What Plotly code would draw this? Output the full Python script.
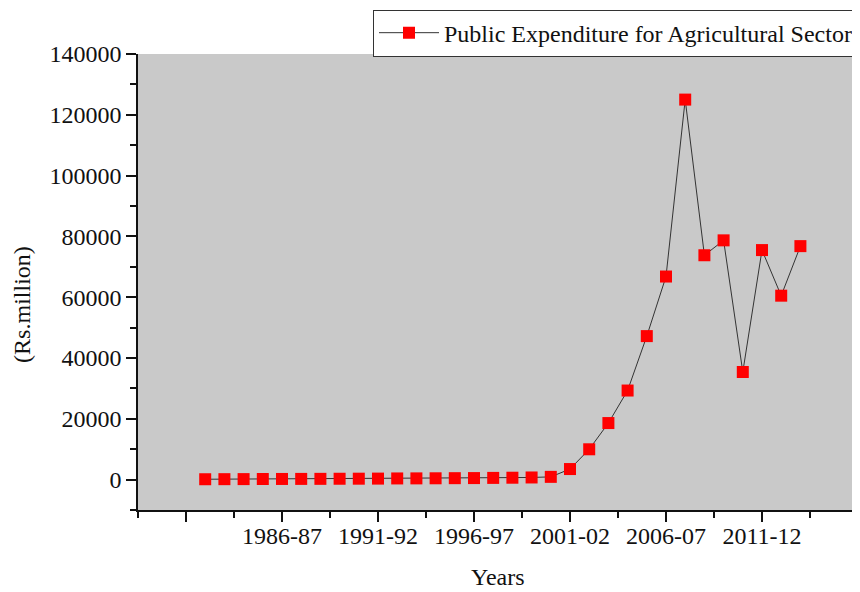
import plotly.graph_objects as go

years = ["1982-83", "1983-84", "1984-85", "1985-86", "1986-87", "1987-88", "1988-89",
         "1989-90", "1990-91", "1991-92", "1992-93", "1993-94", "1994-95", "1995-96",
         "1996-97", "1997-98", "1998-99", "1999-00", "2000-01", "2001-02", "2002-03",
         "2003-04", "2004-05", "2005-06", "2006-07", "2007-08", "2008-09", "2009-10",
         "2010-11", "2011-12", "2012-13", "2013-14"]
expenditure = [120, 140, 160, 190, 210, 230, 250, 280, 300, 330, 380, 400, 430, 470,
               500, 560, 620, 700, 900, 3470, 9970, 18600, 29300, 47200, 66800, 125000,
               73800, 78700, 35400, 75500, 60500, 76800]
tick_labels = ["", "1986-87", "1991-92", "1996-97", "2001-02", "2006-07", "2011-12", ""]
y_ticks = [0, 20000, 40000, 60000, 80000, 100000, 120000, 140000]

base_year = 1981
x_pos = [int(y[:4]) - base_year for y in years]
tick_vals = [i * 5 for i in range(len(tick_labels))]

font_family = "Liberation Serif, Times New Roman, serif"
FS = 24

fig = go.Figure()
fig.add_trace(go.Scatter(
    x=x_pos, y=expenditure, mode="lines+markers",
    name="Public Expenditure for Agricultural Sector",
    line=dict(color="#333333", width=1),
    marker=dict(symbol="square", size=12, color="#ff0000"),
))

axis_common = dict(
    showline=True, linecolor="#111111", linewidth=1.5,
    ticks="outside", ticklen=10, tickwidth=1.5, tickcolor="#111111",
    showgrid=False, zeroline=False, mirror=False,
    tickfont=dict(family=font_family, size=FS, color="#111111"),
)

fig.update_xaxes(
    range=[-2.5, 35], tickmode="array", tickvals=tick_vals, ticktext=tick_labels,
    minor=dict(ticks="outside", ticklen=6, tickwidth=1.5, tickcolor="#111111",
               tick0=2.5, dtick=5),
    ticklabelstandoff=-7,
    **axis_common,
)
fig.update_yaxes(
    range=[-10000, 140000], tickmode="array", tickvals=y_ticks,
    ticktext=[str(v) for v in y_ticks],
    minor=dict(ticks="outside", ticklen=6, tickwidth=1.5, tickcolor="#111111",
               tick0=10000, dtick=20000),
    **axis_common,
)

fig.add_annotation(
    text="(Rs.million)", textangle=-90, xref="paper", yref="paper",
    x=-0.161, y=0.45, showarrow=False, xanchor="center", yanchor="middle",
    font=dict(family=font_family, size=FS, color="#111111"),
)
fig.add_annotation(
    text="Years", xref="paper", yref="paper",
    x=0.5, y=-68 / 462, showarrow=False, xanchor="center", yanchor="middle",
    font=dict(family=font_family, size=FS, color="#111111"),
)

# page body has an 8px margin, so the figure is shrunk by 8px to keep the plot area aligned
fig.update_layout(
    width=852, height=584,
    margin=dict(l=130, r=2, t=40, b=82),
    paper_bgcolor="white", plot_bgcolor="#c9c9c9",
    showlegend=True,
    legend=dict(x=1, y=1 + 45 / 462, xanchor="right", yanchor="top",
                bgcolor="white", bordercolor="#333333", borderwidth=1,
                font=dict(family=font_family, size=FS, color="#111111"),
                itemwidth=60, tracegroupgap=0),
)

fig.write_html("out.html")
